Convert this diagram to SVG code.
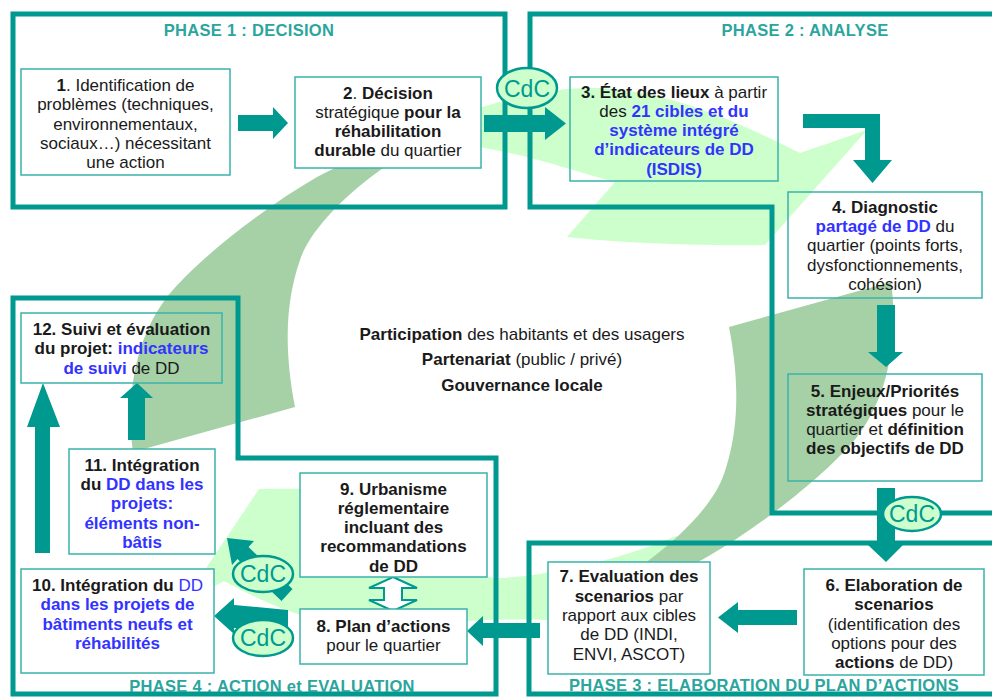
<svg xmlns="http://www.w3.org/2000/svg" width="992" height="697" viewBox="0 0 992 697">
<style>
text{font-family:"Liberation Sans",Arial,sans-serif;font-size:17px;fill:#1a1a1a}
.m{text-anchor:middle}
.b{font-weight:bold}
.u{fill:#3333ff}
.ph{font-weight:bold;fill:#2ba59d;font-size:16.5px;letter-spacing:0.3px;text-anchor:middle}
.frame{fill:none;stroke:#00998f;stroke-width:5;stroke-linejoin:miter}
.box{stroke:#3ab3aa;stroke-width:1.5}
.wf{fill:#fff}
.nf{fill:none}
.arr{fill:#00998f}
.hollow{fill:#fff;stroke:#00998f;stroke-width:2}
.cdc{fill:#ccffcc;stroke:#00998f;stroke-width:2.5}
.cdct{font-size:23px;fill:#00998f;text-anchor:middle}
.lg{fill:#ccffcc}
.dg{fill:#a6d0a6}
</style>
<rect width="992" height="697" fill="#fff"/>

<g id="swirl">
  <path class="lg" d="M405,140 C460,112 530,86 600,88 C670,92 730,118 800,153 L867,130 L765,245 C700,246 620,243 567,237 L615,182 C570,170 520,152 470,146 C450,145 435,147 420,152 Z"/>
  <path class="dg" d="M133,452 C127,410 130,345 167,297 C195,262 260,210 317,177 C345,162 380,148 410,138 L420,152 C405,156 395,160 383,168 C345,195 310,230 300,260 C288,295 282,340 295,407 Z"/>
  <path class="lg" d="M676,536 C620,560 540,578 494,578 C460,572 430,562 409,552 L457,497 C400,490 320,488 259,489 L182,604 L224,581 C260,600 290,615 330,622 C380,626 440,622 490,620 C520,619 540,620 554,620 C600,612 650,590 700,555 L690,540 Z"/>
  <path class="dg" d="M891,282 C897,324 894,389 857,437 C829,472 764,524 707,557 L680,572 L641,566 C679,539 714,504 724,474 C736,439 742,394 729,327 Z"/>
</g>

<g id="phases">
  <rect id="phase1" class="frame" x="13" y="14" width="492" height="193"/>
  <path id="phase2" class="frame" d="M995,14 L530,14 L530,207 L772,207 L772,513 L995,513"/>
  <path id="phase3" class="frame" d="M995,543 L529,543 L529,694 L995,694"/>
  <path id="phase4" class="frame" d="M13,298 L238,298 L238,458 L496,458 L496,694 L13,694 Z"/>
  <text class="ph" x="249" y="36">PHASE 1 : DECISION</text>
  <text class="ph" x="805" y="36">PHASE 2 : ANALYSE</text>
  <text class="ph" x="764" y="691">PHASE 3 : ELABORATION DU PLAN D’ACTIONS</text>
  <text class="ph" x="272" y="692">PHASE 4 : ACTION et EVALUATION</text>
</g>

<g id="connectors">
  <path class="arr" d="M238,115 L273,115 L273,107 L288,123 L273,139 L273,131 L238,131 Z"/>
  <path class="arr" d="M484,115 L545,115 L545,107 L566,123.5 L545,140 L545,132 L484,132 Z"/>
  <path class="arr" d="M803,114 L880,114 L880,160 L892,160 L872.5,183 L853,160 L865,160 L865,128 L803,128 Z"/>
  <path class="arr" d="M877,305 L895,305 L895,352 L903,352 L886,367 L868,352 L877,352 Z"/>
  <path class="arr" d="M877,488 L895,488 L895,545 L903,545 L886,562 L868,545 L877,545 Z"/>
  <path class="arr" d="M797,610 L738,610 L738,602 L718,617.5 L738,633 L738,625 L797,625 Z"/>
  <path class="arr" d="M540,623 L483,623 L483,616 L467,631 L483,646 L483,638 L540,638 Z"/>
  <path class="hollow" d="M393,577 L417,588 L402,588 L402,600 L417,600 L393,611 L369,600 L384,600 L384,588 L369,588 Z"/>
  <path class="arr" d="M288,610 L234,605 L234,598 L214,616 L234,634 L234,628 L288,628 Z"/>
  <path class="arr" d="M227,538 L254,541 L248.5,547 L292.5,589 L281.5,601 L237.5,559 L232,565 Z"/>
  <path class="arr" d="M35,553 L35,427 L27,427 L43,383 L60,427 L50,427 L50,553 Z"/>
  <path class="arr" d="M128,440 L128,398 L120,398 L137,383 L153,398 L145,398 L145,440 Z"/>
</g>

<g id="node1">
  <rect class="box wf" x="21" y="69" width="209" height="106"/>
  <text class="m" x="125.5" y="91"><tspan class="b">1</tspan>. Identification de</text>
  <text class="m" x="125.5" y="110.3">problèmes (techniques,</text>
  <text class="m" x="125.5" y="129.6">environnementaux,</text>
  <text class="m" x="125.5" y="148.9">sociaux…) nécessitant</text>
  <text class="m" x="125.5" y="168.2">une action</text>
</g>
<g id="node2">
  <rect class="box wf" x="295" y="77" width="186" height="91"/>
  <text class="m" x="388" y="98.5"><tspan class="b">2</tspan>. <tspan class="b">Décision</tspan></text>
  <text class="m" x="388" y="117.5">stratégique <tspan class="b">pour la</tspan></text>
  <text class="m" x="388" y="136.5" font-weight="bold">réhabilitation</text>
  <text class="m" x="388" y="155.5"><tspan class="b">durable</tspan> du quartier</text>
</g>
<g id="node3">
  <rect class="box nf" x="570" y="77" width="208" height="104"/>
  <text class="m" x="674" y="97.5"><tspan class="b">3. État des lieux</tspan> à partir</text>
  <text class="m" x="674" y="116.8">des <tspan class="b u">21 cibles et du</tspan></text>
  <text class="m b u" x="674" y="136.1">système intégré</text>
  <text class="m b u" x="674" y="155.4">d’indicateurs de DD</text>
  <text class="m b u" x="674" y="174.7">(ISDIS)</text>
</g>
<g id="node4">
  <rect class="box nf" x="788" y="192" width="194" height="106"/>
  <text class="m b" x="885" y="213">4. Diagnostic</text>
  <text class="m" x="885" y="232.2"><tspan class="b u">partagé de DD</tspan> du</text>
  <text class="m" x="885" y="251.4">quartier (points forts,</text>
  <text class="m" x="885" y="270.6">dysfonctionnements,</text>
  <text class="m" x="885" y="289.8">cohésion)</text>
</g>
<g id="node5">
  <rect class="box nf" x="788" y="374" width="194" height="107"/>
  <text class="m b" x="885" y="396.5">5. Enjeux/Priorités</text>
  <text class="m" x="885" y="415.8"><tspan class="b">stratégiques</tspan> pour le</text>
  <text class="m" x="885" y="435.1">quartier et <tspan class="b">définition</tspan></text>
  <text class="m b" x="885" y="454.4">des objectifs de DD</text>
</g>
<g id="node6">
  <rect class="box wf" x="804" y="569" width="180" height="106"/>
  <text class="m b" x="894" y="591">6. Elaboration de</text>
  <text class="m b" x="894" y="610.3">scenarios</text>
  <text class="m" x="894" y="629.6">(identification des</text>
  <text class="m" x="894" y="648.9">options pour des</text>
  <text class="m" x="894" y="668.2"><tspan class="b">actions</tspan> de DD)</text>
</g>
<g id="node7">
  <rect class="box wf" x="548" y="562" width="162" height="112"/>
  <text class="m b" x="629" y="582.3">7. Evaluation des</text>
  <text class="m" x="629" y="601.6"><tspan class="b">scenarios</tspan> par</text>
  <text class="m" x="629" y="620.9">rapport aux cibles</text>
  <text class="m" x="629" y="640.2">de DD (INDI,</text>
  <text class="m" x="629" y="659.5">ENVI, ASCOT)</text>
</g>
<g id="node8">
  <rect class="box wf" x="300" y="609" width="167" height="55"/>
  <text class="m b" x="383.5" y="631.5">8. Plan d’actions</text>
  <text class="m" x="383.5" y="650.8">pour le quartier</text>
</g>
<g id="node9">
  <rect class="box wf" x="300" y="473" width="187" height="104"/>
  <text class="m b" x="393.5" y="494.5">9. Urbanisme</text>
  <text class="m b" x="393.5" y="513.8">réglementaire</text>
  <text class="m b" x="393.5" y="533.1">incluant des</text>
  <text class="m b" x="393.5" y="552.4">recommandations</text>
  <text class="m b" x="393.5" y="571.7">de DD</text>
</g>
<g id="node10">
  <rect class="box wf" x="21" y="569" width="193" height="104"/>
  <text class="m" x="117.5" y="591"><tspan class="b">10. Intégration du</tspan> <tspan class="u">DD</tspan></text>
  <text class="m b u" x="117.5" y="610.3">dans les projets de</text>
  <text class="m b u" x="117.5" y="629.6">bâtiments neufs et</text>
  <text class="m b u" x="117.5" y="648.9">réhabilités</text>
</g>
<g id="node11">
  <rect class="box wf" x="69" y="449" width="146" height="105"/>
  <text class="m b" x="142" y="470.7">11. Intégration</text>
  <text class="m b" x="142" y="490">du <tspan class="u">DD dans les</tspan></text>
  <text class="m b u" x="142" y="509.3">projets:</text>
  <text class="m b u" x="142" y="528.6">éléments non-</text>
  <text class="m b u" x="142" y="547.9">bâtis</text>
</g>
<g id="node12">
  <rect class="box nf" x="21" y="313" width="201" height="70"/>
  <text class="m b" x="121.5" y="335">12. Suivi et évaluation</text>
  <text class="m b" x="121.5" y="354.3">du projet: <tspan class="u">indicateurs</tspan></text>
  <text class="m" x="121.5" y="373.6"><tspan class="b u">de suivi</tspan> de DD</text>
</g>

<g id="cdc">
  <ellipse class="cdc" cx="527" cy="88" rx="30" ry="20"/>
  <text class="cdct" x="527" y="96.5" font-size="24">CdC</text>
  <ellipse class="cdc" cx="912" cy="514" rx="29" ry="17"/>
  <text class="cdct" x="912" y="522">CdC</text>
  <ellipse class="cdc" cx="263" cy="574" rx="30" ry="18"/>
  <text class="cdct" x="263" y="582">CdC</text>
  <ellipse class="cdc" cx="263" cy="638" rx="30" ry="18"/>
  <text class="cdct" x="263" y="646">CdC</text>
</g>

<g id="center">
  <text class="m" x="522" y="340"><tspan class="b">Participation</tspan> des habitants et des usagers</text>
  <text class="m" x="522" y="365"><tspan class="b">Partenariat</tspan> (public / privé)</text>
  <text class="m b" x="522" y="391">Gouvernance locale</text>
</g>
</svg>
